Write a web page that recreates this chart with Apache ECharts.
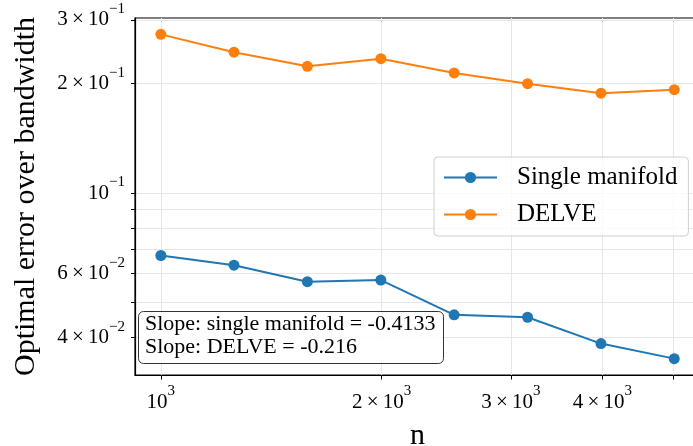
<!DOCTYPE html>
<html>
<head>
<meta charset="utf-8">
<script src="https://cdn.jsdelivr.net/npm/echarts@6/dist/echarts.min.js"></script>
<style>
  html, body { margin: 0; padding: 0; background: #fff; }
  #chart { width: 693px; height: 446px; }
</style>
</head>
<body>
<div id="chart"></div>
<script>
// Sample sizes (n) and optimal error / bandwidth for each method
const sampleSizes = [1000, 1258, 1584, 1995, 2511, 3162, 3981, 5011];
const singleManifold = [0.0673, 0.0633, 0.0570, 0.0576, 0.0462, 0.0455, 0.0385, 0.0350];
const delve = [0.2735, 0.2442, 0.2234, 0.2344, 0.2141, 0.2000, 0.1883, 0.1926];

// Tick positions (log axes) and which of them carry labels
const xTickValues = [1000, 2000, 3000, 4000, 5000];
const xLabelValues = [1000, 2000, 3000, 4000];
const yTickValues = [0.04, 0.05, 0.06, 0.07, 0.08, 0.09, 0.1, 0.2, 0.3];
const yLabelValues = [0.04, 0.06, 0.1, 0.2, 0.3];

const seriesNames = ['Single manifold', 'DELVE'];
const slopeLines = ['Slope: single manifold = -0.4133', 'Slope: DELVE = -0.216'];

const FONT = 'Liberation Serif';

// "m×10^e" style label with a raised exponent
function sciLabel(v) {
  const e = Math.floor(Math.log10(v) + 1e-9);
  const m = Math.round(v / Math.pow(10, e));
  const exp = (e < 0 ? '\u2212' : '') + Math.abs(e);
  const base = m === 1 ? '10' : m + '\u2009\u00d7\u200910';
  return '{b|' + base + '}{s|' + exp + '}';
}

const richSci = {
  b: { fontFamily: FONT, fontSize: 21, color: '#000', verticalAlign: 'bottom', lineHeight: 21 },
  s: { fontFamily: FONT, fontSize: 15, color: '#000', verticalAlign: 'bottom', lineHeight: 15, padding: [0, 0, 14, 0] }
};

const chart = echarts.init(document.getElementById('chart'), null, { renderer: 'canvas' });

chart.setOption({
  animation: false,
  backgroundColor: '#fff',
  grid: {
    left: 135, right: -7, top: 18, bottom: 71,
    outerBoundsMode: 'none',
    containLabel: false,
    show: true, borderColor: '#000', borderWidth: 1.2, backgroundColor: 'transparent'
  },
  title: {
    text: slopeLines.join('\n'),
    left: 138, top: 311,
    padding: [2, 8, 5, 7],
    borderColor: '#333', borderWidth: 1, borderRadius: 5,
    backgroundColor: 'rgba(255,255,255,0.85)',
    textStyle: { fontFamily: FONT, fontSize: 22, fontWeight: 'normal', color: '#000', lineHeight: 23 }
  },
  legend: {
    data: seriesNames,
    orient: 'vertical',
    left: 434, top: 157,
    padding: [8, 11, 9, 9],
    itemWidth: 53, itemHeight: 14, itemGap: 12,
    textStyle: { fontFamily: FONT, fontSize: 25, color: '#000', lineHeight: 25, padding: [0, 0, 0, 15] },
    borderColor: '#d0d0d0', borderWidth: 1, borderRadius: 4,
    backgroundColor: 'rgba(255,255,255,0.8)'
  },
  xAxis: {
    type: 'log', logBase: 10,
    min: 922, max: 5433,
    name: 'n', nameLocation: 'middle', nameGap: 46,
    nameTextStyle: { fontFamily: FONT, fontSize: 30, color: '#000' },
    axisLine: { show: true, lineStyle: { color: '#000', width: 1.2 } },
    axisTick: { show: true, customValues: xTickValues, length: 4.5, lineStyle: { color: '#000', width: 1 } },
    axisLabel: { customValues: xLabelValues, formatter: sciLabel, rich: richSci, margin: 17, hideOverlap: false },
    splitLine: { show: true, lineStyle: { color: '#e6e6e6', width: 1 } },
    minorTick: { show: false }, minorSplitLine: { show: false }
  },
  yAxis: {
    type: 'log', logBase: 10,
    min: 0.03155, max: 0.3034,
    name: 'Optimal error over bandwidth', nameLocation: 'middle', nameGap: 94,
    nameTextStyle: { fontFamily: FONT, fontSize: 30, color: '#000' },
    axisLine: { show: true, lineStyle: { color: '#000', width: 1.2 } },
    axisTick: { show: true, customValues: yTickValues, length: 4, lineStyle: { color: '#000', width: 1 } },
    axisLabel: { customValues: yLabelValues, formatter: sciLabel, rich: richSci, margin: 10, hideOverlap: false },
    splitLine: { show: true, lineStyle: { color: '#e6e6e6', width: 1 } },
    minorTick: { show: false }, minorSplitLine: { show: false }
  },
  series: [
    {
      name: seriesNames[0], type: 'line',
      data: sampleSizes.map((n, i) => [n, singleManifold[i]]),
      symbol: 'circle', symbolSize: 11,
      itemStyle: { color: '#1f77b4' },
      lineStyle: { color: '#1f77b4', width: 2 }
    },
    {
      name: seriesNames[1], type: 'line',
      data: sampleSizes.map((n, i) => [n, delve[i]]),
      symbol: 'circle', symbolSize: 11,
      itemStyle: { color: '#ff7f0e' },
      lineStyle: { color: '#ff7f0e', width: 2 }
    }
  ]
});
</script>
</body>
</html>
